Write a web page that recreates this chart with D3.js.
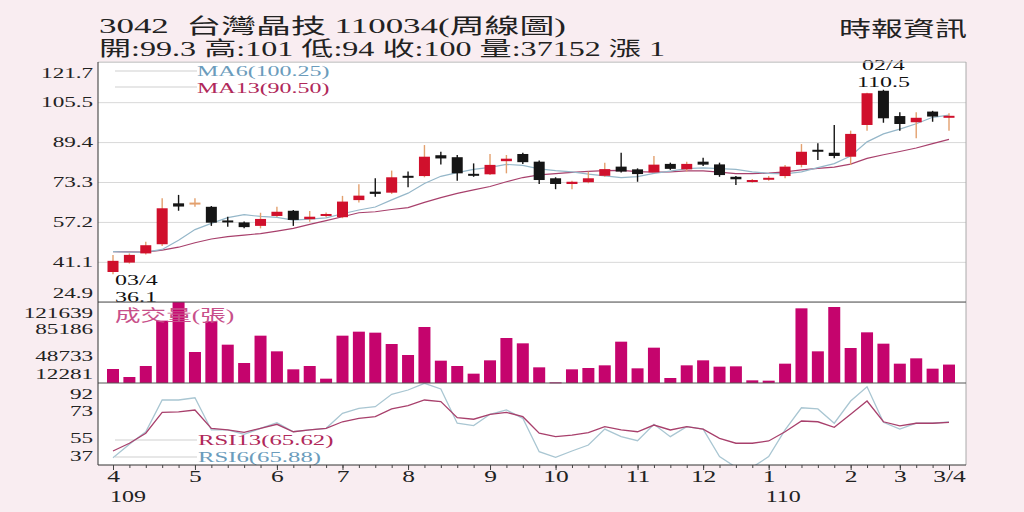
<!DOCTYPE html>
<html>
<head>
<meta charset="utf-8">
<script src="https://cdnjs.cloudflare.com/ajax/libs/d3/7.8.5/d3.min.js"></script>
<style>
  body{margin:0;background:#f9edf1;}
  text{font-family:"Liberation Serif","Noto Sans CJK TC",serif;}
</style>
</head>
<body>
<div id="viz-container"></div>
<script>
// weekly candles, 109/03 -> 110/03 (52 weeks)
let open  = [37.0,40.8,44.5,48.2,64.7,65.0,63.3,57.8,57.0,55.6,59.6,61.7,58.3,59.6,59.1,66.0,69.4,69.0,75.8,75.7,84.1,83.3,76.6,76.4,81.7,84.6,81.5,74.8,72.5,73.2,75.8,79.5,78.4,77.2,80.6,78.4,81.5,80.4,75.4,73.4,74.5,75.7,80.2,86.3,85.1,83.5,96.3,110.1,99.9,97.4,101.7,99.3];
let high  = [43.9,44.5,49.2,66.7,68.1,66.7,63.6,59.3,57.4,60.9,63.3,62.0,61.6,61.0,67.7,72.4,74.8,77.9,77.5,88.2,85.5,84.2,80.8,84.6,84.2,85.1,82.0,75.2,73.8,77.5,81.1,85.1,78.8,83.8,81.1,81.5,83.1,81.1,75.7,74.5,75.7,80.2,88.6,88.9,96.3,94.0,109.3,110.5,101.4,101.4,102.0,101.0];
let low   = [36.1,40.4,44.1,47.5,61.7,63.3,55.6,55.3,54.6,54.6,59.2,55.6,57.3,59.1,58.7,65.0,67.4,68.5,71.2,75.2,80.4,73.8,75.4,76.1,76.8,80.6,72.5,70.4,70.4,72.8,75.4,77.1,73.4,77.1,78.2,77.5,79.8,75.4,72.1,73.0,73.8,74.8,79.2,82.2,82.9,80.2,94.0,97.2,94.0,90.9,97.6,94.0];
let close = [41.5,43.9,47.8,62.7,63.4,65.0,56.9,57.5,55.1,58.4,61.3,58.0,59.3,60.4,65.4,67.8,68.5,75.2,75.6,83.5,82.8,76.8,76.4,80.2,82.7,81.3,74.1,72.5,73.4,74.8,78.5,77.5,76.5,80.3,78.6,80.6,80.3,76.1,74.4,74.1,75.0,79.5,85.5,86.1,83.8,92.7,109.1,99.0,96.7,99.2,99.7,100.0];
let volume = [31180,20380,35230,96440,121639,54130,95540,64030,39280,76180,55030,30730,35230,18130,76180,81580,80240,64930,50080,87890,42430,35230,24880,42880,73030,65830,33430,13180,30730,32530,36130,68080,32080,59980,19030,36130,42880,34330,34780,15880,15430,38380,113090,55030,114890,59530,80690,65380,38380,45580,31630,37152];
let ma6  = [45.2,45.0,45.0,46.1,49.8,54.1,56.6,58.9,60.1,59.4,59.0,57.9,58.3,58.8,60.5,62.0,63.2,66.1,68.8,72.7,75.6,77.1,78.4,79.2,80.4,80.0,78.6,77.9,77.4,76.5,75.8,75.1,75.5,76.8,77.7,78.7,79.0,78.7,78.4,77.4,76.8,76.6,77.4,79.1,80.7,83.8,89.5,92.7,94.6,96.8,99.4,100.25];
let ma13 = [45.2,45.1,45.0,45.8,47.0,48.8,50.3,51.3,51.9,52.5,53.5,54.6,56.2,57.7,59.3,60.9,61.3,62.2,63.0,65.1,67.0,68.7,70.1,71.5,73.4,75.1,76.2,76.7,77.2,77.6,77.9,78.0,77.5,77.3,77.4,77.8,77.8,77.3,76.7,76.7,76.9,77.4,78.2,78.8,79.3,80.5,82.8,84.3,85.6,87.0,88.8,90.5];
let rsi6  = [41.9,50.9,59.3,80.6,80.6,82.1,60.5,60.5,57.6,61.6,65.4,59.3,60.5,61.6,71.7,75.0,76.1,84.4,87.3,91.8,88.0,65.0,63.4,71.0,73.9,68.3,45.9,42.2,46.4,50.4,61.1,56.0,53.3,64.3,56.0,62.7,61.1,42.6,35.5,35.5,42.6,60.5,75.4,74.6,65.0,79.9,89.5,65.6,61.1,65.0,65.0,65.88];
let rsi13 = [46.4,51.6,58.3,72.3,72.7,73.9,61.6,60.5,58.9,61.6,64.3,59.3,60.5,61.6,66.0,68.3,69.4,74.6,76.8,80.6,79.5,68.7,67.7,71.0,72.3,69.4,58.3,56.0,57.1,58.7,62.7,60.5,59.3,63.8,60.5,62.7,61.1,54.9,51.6,51.6,53.1,59.3,66.5,66.0,62.3,71.0,79.9,66.0,63.2,65.0,65.0,65.62];

let priceTicks  = [24.9,41.1,57.2,73.3,89.4,105.5,121.7];
let volumeTicks = [12281,48733,85186,121639];
let rsiTicks    = [37,55,73,92];
let monthIndex  = [0,5,10,14,18,23,27,32,36,40,45,48,51];
let monthLabel  = ["4","5","6","7","8","9","10","11","12","1","2","3","3/4"];
let yearIndex   = [0,40];
let yearLabel   = ["109","110"];

let title1 = "3042  台灣晶技 110034(周線圖)";
let title2 = "開:99.3 高:101 低:94 收:100 量:37152 漲 1";

let left = 98, right = 966;
let sx = 1.5; // text in the picture is wide

//create canvas
let viz = d3.select("#viz-container")
    .append("svg")
    .attr("width",1024)
    .attr("height",512)
;
viz.append("rect").attr("width",1024).attr("height",512).attr("fill","#f9edf1");
viz.append("rect").attr("x",left).attr("y",62).attr("width",right-left).attr("height",465-62).attr("fill","white");

let x = d3.scaleLinear().domain([0,51]).range([113,949]);
let yPrice = d3.scaleLinear().domain([24.9,121.7]).range([302,62]);
let yVol = d3.scaleLinear().domain([12281,121639]).range([383,302]);
let yRsi = d3.scaleLinear().domain([37,92]).range([465,383]);

function candleColor(i){
  if(close[i]>open[i]){
    return "#d0102c";
  }else if(close[i]<open[i]){
    return "#151515";
  }else{
    return "#e3a06e";
  }
}
function wickColor(i){
  if(close[i]<open[i]){
    return "#151515";
  }
  return "#e3a06e";
}

function label(str, px, py, size, color, anchor, stretch){
  return viz.append("text")
    .attr("transform","translate("+px+","+py+") scale("+(stretch||sx)+",1)")
    .attr("font-size",size)
    .attr("fill",color)
    .attr("text-anchor",anchor||"start")
    .text(str);
}

// header
viz.append("text").attr("x",99).attr("y",33).attr("font-size",21).attr("fill","#222")
  .attr("textLength",467).attr("lengthAdjust","spacingAndGlyphs").attr("xml:space","preserve").text(title1);
viz.append("text").attr("x",99).attr("y",56).attr("font-size",20).attr("fill","#222")
  .attr("textLength",566).attr("lengthAdjust","spacingAndGlyphs").text(title2);
viz.append("text").attr("x",839).attr("y",36).attr("font-size",21).attr("fill","#222")
  .attr("textLength",128).attr("lengthAdjust","spacingAndGlyphs").text("時報資訊");

// price grid
viz.append("g")
  .attr("transform","translate("+left+",0)")
  .call(d3.axisLeft(yPrice).tickValues(priceTicks).tickSize(-(right-left)).tickFormat(""))
  .call(g=>g.select(".domain").remove())
  .selectAll("line").attr("stroke","#d8d8d8");

// left axes
function sideAxis(scale, ticks, fmt){
  let g = viz.append("g")
    .attr("transform","translate("+left+",0)")
    .call(d3.axisLeft(scale).tickValues(ticks).tickSize(0).tickPadding(3).tickFormat(fmt));
  g.select(".domain").remove();
  let lo = d3.min(ticks), hi = d3.max(ticks);
  g.selectAll("text")
    .attr("font-size",14.5)
    .attr("fill","#222")
    .attr("font-family","Liberation Serif")
    .attr("transform","scale(1.6,1)")
    .attr("dy",d=> d==hi ? "1.05em" : d==lo ? "-0.28em" : "0.32em");
}
sideAxis(yPrice, priceTicks, d3.format(".1f"));
sideAxis(yVol, volumeTicks, d3.format("d"));
sideAxis(yRsi, rsiTicks, d3.format("d"));

// legend lines
function legendLine(py){
  viz.append("line").attr("x1",115).attr("x2",197).attr("y1",py).attr("y2",py)
    .attr("stroke","#cfcfcf").attr("stroke-width",1);
}
legendLine(71); legendLine(87);
label("MA6(100.25)",197,76,15,"#6b9cbc","start",1.6);
label("MA13(90.50)",197,93,15,"#b0285a","start",1.6);

// moving averages
let priceLine = d3.line().x((d,i)=>x(i)).y(d=>yPrice(d));
viz.append("path").attr("d",priceLine(ma13)).attr("fill","none").attr("stroke","#a8406c").attr("stroke-width",1.2);
viz.append("path").attr("d",priceLine(ma6)).attr("fill","none").attr("stroke","#95b7c9").attr("stroke-width",1.2);

// candles
let idx = d3.range(close.length);
let candles = viz.selectAll(".candle").data(idx).enter()
  .append("g")
    .attr("class","candle");
candles.append("line")
  .attr("x1",i=>x(i)).attr("x2",i=>x(i))
  .attr("y1",i=>yPrice(high[i])).attr("y2",i=>yPrice(low[i]))
  .attr("stroke",wickColor).attr("stroke-width",1.4);
candles.append("rect")
  .attr("x",i=>x(i)-5.5)
  .attr("width",11)
  .attr("y",i=>yPrice(Math.max(open[i],close[i])))
  .attr("height",i=>Math.max(2,Math.abs(yPrice(open[i])-yPrice(close[i]))))
  .attr("fill",candleColor);

// high / low notes
label("02/4",x(47),70,15,"#111","middle",1.6);
label("110.5",x(47),87,15,"#111","middle",1.6);
label("03/4",x(0)+2,285,15,"#111","start",1.6);
label("36.1",x(0)+2,302,15,"#111","start",1.6);

// volume bars
viz.selectAll(".vol").data(idx).enter()
  .append("rect")
    .attr("class","vol")
    .attr("x",i=>x(i)-6)
    .attr("width",12)
    .attr("y",i=>yVol(volume[i]))
    .attr("height",i=>Math.max(1,yVol(12281)-yVol(volume[i])))
    .attr("fill","#c5046d");
label("成交量(張)",115,321,16,"#c8508a","start",1.6);

// rsi
viz.append("clipPath").attr("id","rsiClip")
  .append("rect").attr("x",left).attr("y",383).attr("width",right-left).attr("height",82);
let rsiLine = d3.line().x((d,i)=>x(i)).y(d=>yRsi(d));
legendLine(440); legendLine(457);
viz.append("path").attr("d",rsiLine(rsi6)).attr("fill","none").attr("stroke","#a9c6d2").attr("stroke-width",1.3).attr("clip-path","url(#rsiClip)");
viz.append("path").attr("d",rsiLine(rsi13)).attr("fill","none").attr("stroke","#a8406c").attr("stroke-width",1.3).attr("clip-path","url(#rsiClip)");
label("RSI13(65.62)",198,445,15,"#b0285a","start",1.65);
label("RSI6(65.88)",198,462,15,"#6b9cbc","start",1.65);

// frame
viz.append("line").attr("x1",left).attr("x2",right).attr("y1",62).attr("y2",62).attr("stroke","#cccccc");
viz.append("line").attr("x1",right).attr("x2",right).attr("y1",62).attr("y2",465).attr("stroke","#aaaaaa");
viz.append("line").attr("x1",left).attr("x2",right).attr("y1",302).attr("y2",302).attr("stroke","#555");
viz.append("line").attr("x1",left).attr("x2",right).attr("y1",383).attr("y2",383).attr("stroke","#555");
viz.append("line").attr("x1",left).attr("x2",left).attr("y1",62).attr("y2",465).attr("stroke","#333");

// bottom axis: small tick each week, labels at months
viz.append("g")
  .attr("transform","translate(0,465)")
  .call(d3.axisBottom(x).tickValues(idx).tickSize(3).tickFormat(""))
  .call(g=>g.select(".domain").attr("d","M"+left+",0H"+right).attr("stroke","#333"))
  .selectAll("line").attr("stroke","#444");
let months = viz.append("g")
  .attr("transform","translate(0,465)")
  .call(d3.axisBottom(x).tickValues(monthIndex).tickSize(5).tickPadding(0)
    .tickFormat(d=>monthLabel[monthIndex.indexOf(d)]));
months.select(".domain").remove();
months.selectAll("line").attr("stroke","#444");
months.selectAll("text")
  .attr("font-size",17)
  .attr("fill","#222")
  .attr("font-family","Liberation Serif")
  .attr("transform","scale(1.5,1)");

yearIndex.forEach(function(d,k){
  label(yearLabel[k],x(d)-3,502,16,"#222","start",1.5);
});
</script>
</body>
</html>
